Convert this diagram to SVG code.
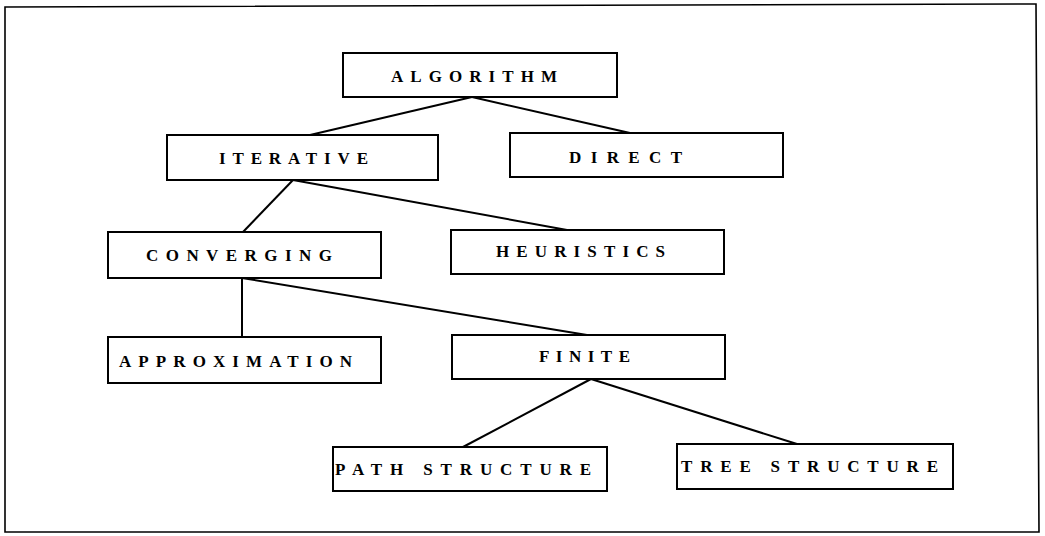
<svg xmlns="http://www.w3.org/2000/svg" width="1045" height="536" viewBox="0 0 1045 536">
<style>
.box{fill:#fff;stroke:#000;stroke-width:2}
.lbl{font-family:"Liberation Serif","Times New Roman",serif;font-weight:bold;font-size:17px;fill:#000}
.con line{stroke:#000;stroke-width:2}
</style>
<rect width="1045" height="536" fill="#fff"/>
<path d="M5,7 L1036,4 L1039,532 L5,532 Z" fill="none" stroke="#000" stroke-width="1.6"/>
<g class="con">
<line x1="472" y1="97" x2="310" y2="135"/>
<line x1="472" y1="97" x2="630" y2="133"/>
<line x1="293" y1="180" x2="243" y2="232"/>
<line x1="293" y1="180" x2="567" y2="230"/>
<line x1="242" y1="278" x2="242" y2="337"/>
<line x1="242" y1="278" x2="587" y2="335"/>
<line x1="591" y1="379" x2="463" y2="447"/>
<line x1="591" y1="379" x2="797" y2="444"/>
</g>
<g id="algorithm"><rect class="box" x="343" y="53" width="274" height="44"/><text class="lbl" x="391" y="82" textLength="166" lengthAdjust="spacing">ALGORITHM</text></g>
<g id="iterative"><rect class="box" x="167" y="135" width="271" height="45"/><text class="lbl" x="219" y="164" textLength="149" lengthAdjust="spacing">ITERATIVE</text></g>
<g id="direct"><rect class="box" x="510" y="133" width="273" height="44"/><text class="lbl" x="569" y="163" textLength="113" lengthAdjust="spacing">DIRECT</text></g>
<g id="converging"><rect class="box" x="108" y="232" width="273" height="46"/><text class="lbl" x="146" y="261" textLength="186" lengthAdjust="spacing">CONVERGING</text></g>
<g id="heuristics"><rect class="box" x="451" y="230" width="273" height="44"/><text class="lbl" x="496" y="257" textLength="169" lengthAdjust="spacing">HEURISTICS</text></g>
<g id="approximation"><rect class="box" x="108" y="337" width="273" height="46"/><text class="lbl" x="119" y="366.5" textLength="233" lengthAdjust="spacing">APPROXIMATION</text></g>
<g id="finite"><rect class="box" x="452" y="335" width="273" height="44"/><text class="lbl" x="539" y="362" textLength="91" lengthAdjust="spacing">FINITE</text></g>
<g id="path-structure"><rect class="box" x="333" y="447" width="274" height="44"/><text class="lbl" x="335" y="475" textLength="256" lengthAdjust="spacing">PATH STRUCTURE</text></g>
<g id="tree-structure"><rect class="box" x="677" y="444" width="276" height="45"/><text class="lbl" x="681" y="472" textLength="257" lengthAdjust="spacing">TREE STRUCTURE</text></g>
</svg>
